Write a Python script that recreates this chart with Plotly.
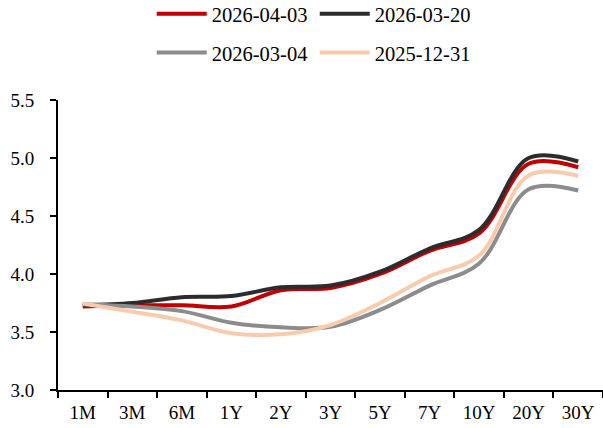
import plotly.graph_objects as go

categories = ["1M", "3M", "6M", "1Y", "2Y", "3Y", "5Y", "7Y", "10Y", "20Y", "30Y"]
s_20260403 = [3.72, 3.73, 3.73, 3.72, 3.86, 3.88, 4.00, 4.20, 4.35, 4.95, 4.92]
s_20260320 = [3.73, 3.75, 3.80, 3.81, 3.885, 3.90, 4.02, 4.22, 4.38, 5.00, 4.97]
s_20260304 = [3.74, 3.72, 3.68, 3.58, 3.54, 3.545, 3.69, 3.90, 4.09, 4.73, 4.72]
s_20251231 = [3.745, 3.675, 3.60, 3.49, 3.48, 3.56, 3.75, 3.98, 4.16, 4.85, 4.845]
names = ["2026-04-03", "2026-03-20", "2026-03-04", "2025-12-31"]
colors = ["#C00000", "#2B2B30", "#8C8C8C", "#F8CBAD"]
series = [s_20260403, s_20260320, s_20260304, s_20251231]
legend_ids = ["legend", "legend", "legend2", "legend2"]

FONT = "Liberation Serif"

fig = go.Figure()
for n, c, s, lg in zip(names, colors, series, legend_ids):
    fig.add_trace(go.Scatter(
        x=categories, y=s, name=n, mode="lines",
        line=dict(color=c, width=4, shape="spline", smoothing=1),
        legend=lg,
    ))

legend_common = dict(
    orientation="h", font=dict(family=FONT, size=20.5, color="#000000"),
    bgcolor="rgba(0,0,0,0)", xanchor="left", yanchor="middle",
    entrywidth=98, itemwidth=50, tracegroupgap=0,
)

fig.update_layout(
    width=603, height=428,
    margin=dict(l=58, r=0, t=100, b=38, autoexpand=False),
    paper_bgcolor="white", plot_bgcolor="white",
    font=dict(family=FONT, size=19, color="#000000"),
    legend=dict(x=0.172, y=1.297, **legend_common),
    legend2=dict(x=0.172, y=1.163, **legend_common),
    xaxis=dict(
        type="category", tickson="boundaries", ticks="outside", ticklen=6,
        tickwidth=2, tickcolor="#000000", showline=True, linecolor="#000000",
        linewidth=2, showgrid=False, zeroline=False, automargin=False,
        ticklabelstandoff=4,
        tickfont=dict(family=FONT, size=19, color="#000000"),
        range=[-0.5, 10.5],
    ),
    yaxis=dict(
        range=[3.0, 5.5], tickvals=[3.0, 3.5, 4.0, 4.5, 5.0, 5.5],
        ticktext=["3.0", "3.5", "4.0", "4.5", "5.0", "5.5"],
        ticks="outside", ticklen=6, tickwidth=2, tickcolor="#000000",
        showline=True, linecolor="#000000", linewidth=2, showgrid=False,
        zeroline=False, ticklabelstandoff=12, automargin=False,
        tickfont=dict(family=FONT, size=19, color="#000000"),
    ),
)

fig.write_html(
    "out.html",
    config={"displayModeBar": False},
    post_script="document.body.style.margin='0';document.body.style.padding='0';",
)
